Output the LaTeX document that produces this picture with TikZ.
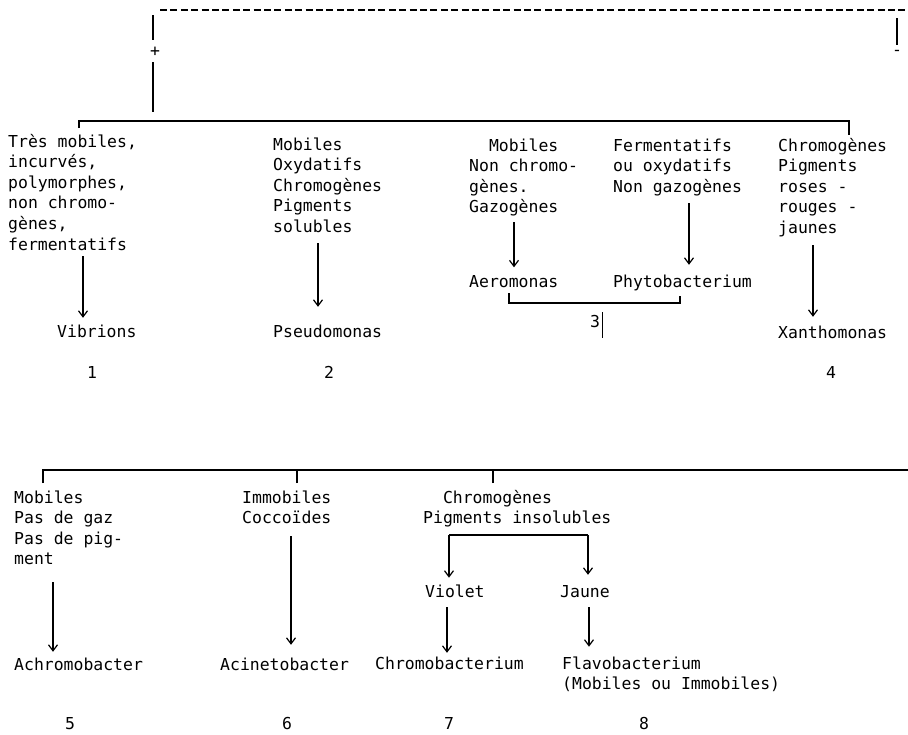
\documentclass[tikz,border=0pt]{standalone}
\usepackage{fontspec}
\usepackage{tikz}
\usetikzlibrary{arrows.meta}
\newfontfamily\typewriter{DejaVu Sans Mono}
\tikzstyle{labeledText}=[anchor = base west, inner sep = 0pt, align = left, font = \typewriter\fontsize{16.45}{20.6}\selectfont]
\tikzstyle{labeledNumber}=[anchor = base, inner sep = 0pt, font = \typewriter\fontsize{16.45}{20.6}\selectfont]
\tikzstyle{branchLine}=[line width = 1.4pt]
\tikzstyle{arrowLine}=[line width = 1.2pt, -{Straight Barb[length = 6pt, width = 9pt]}]

\begin{document}
\begin{tikzpicture}[x = 1pt, y = -1pt]
\useasboundingbox (0,0) rectangle (908,734);
% top: + and - branches
\coordinate (d0) at (160,10);
\coordinate (d1) at (908,10);
\draw[branchLine, dash pattern = on 7pt off 3.4pt] (d0) -- (d1);
\coordinate (t0) at (153,15);
\coordinate (t1) at (153,40);
\coordinate (t2) at (153,62);
\coordinate (t3) at (153,112);
\node[labeledNumber, anchor = center] (vPlus) at (155,52) {+};
\draw[line width = 2pt] (t0) -- (t1);
\draw[line width = 2pt] (t2) -- (t3);
\coordinate (r0) at (897,18);
\coordinate (r1) at (897,45);
\draw[line width = 2.4pt] (r0) -- (r1);
\node[labeledNumber, anchor = center] (vMinus) at (897,53) {-};
\coordinate (h0) at (79,128);
\coordinate (h1) at (849,135);
\draw[branchLine] (h0) -- ++(0,-7) -| (h1);
% first row (multi-line nodes sit on their last line)
\node[labeledText] (v0) at (8,250) {Très mobiles,\\incurvés,\\polymorphes,\\non chromo-\\gènes,\\fermentatifs};
\node[labeledText] (v1) at (273,232.4) {Mobiles\\Oxydatifs\\Chromogènes\\Pigments\\solubles};
\node[labeledText] (v2) at (469,212.8) {\hphantom{No}Mobiles\\Non chromo-\\gènes.\\Gazogènes};
\node[labeledText] (v3) at (613,192.2) {Fermentatifs\\ou oxydatifs\\Non gazogènes};
\node[labeledText] (v4) at (778,233.4) {Chromogènes\\Pigments\\roses -\\rouges -\\jaunes};
\node[labeledText] (v5) at (57,337) {Vibrions};
\node[labeledText] (v6) at (273,337) {Pseudomonas};
\node[labeledText] (v7) at (469,287) {Aeromonas};
\node[labeledText] (v8) at (613,287) {Phytobacterium};
\node[labeledText] (v9) at (778,338) {Xanthomonas};
\coordinate (a0) at (83,256);
\coordinate (a1) at (318,243);
\coordinate (a2) at (514,222);
\coordinate (a3) at (689,203);
\coordinate (a4) at (813,245);
\draw[arrowLine, shorten > = 6.5pt] (a0) -- (a0 |- v5.north);
\draw[arrowLine, shorten > = 17.5pt] (a1) -- (a1 |- v6.north);
\draw[arrowLine, shorten > = 7.5pt] (a2) -- (a2 |- v7.north);
\draw[arrowLine, shorten > = 9.5pt] (a3) -- (a3 |- v8.north);
\draw[arrowLine, shorten > = 8.5pt] (a4) -- (a4 |- v9.north);
\coordinate (b0) at (509,293);
\coordinate (b1) at (680,296);
\draw[branchLine] (b0) -- ++(0,10) -| (b1);
\node[labeledNumber] (n1) at (92,378) {1};
\node[labeledNumber] (n2) at (329,378) {2};
\node[labeledNumber] (n3) at (595,327) {3};
\node[labeledNumber] (n4) at (831,378) {4};
\draw[line width = 0.4pt] (n3.base east) ++(2,-15) -- ++(0,26);
% second row
\coordinate (h2) at (43,483);
\coordinate (h3) at (908,470);
\coordinate (h4) at (297,483);
\coordinate (h5) at (493,483);
\draw[branchLine] (h2) -- ++(0,-13) -- (h3);
\draw[branchLine] (h4) -- ++(0,-13);
\draw[branchLine] (h5) -- ++(0,-13);
\node[labeledText] (v10) at (14,564.8) {Mobiles\\Pas de gaz\\Pas de pig-\\ment};
\node[labeledText] (v11) at (242,523.6) {Immobiles\\Coccoïdes};
\node[labeledText] (v12) at (423,523.6) {\hphantom{Pi}Chromogènes\\Pigments insolubles};
\node[labeledText] (v13) at (425,597) {Violet};
\node[labeledText] (v14) at (560,597) {Jaune};
\node[labeledText] (v15) at (14,670) {Achromobacter};
\node[labeledText] (v16) at (220,670) {Acinetobacter};
\node[labeledText] (v17) at (375,669) {Chromobacterium};
\node[labeledText] (v18) at (562,689.6) {Flavobacterium\\(Mobiles ou Immobiles)};
\coordinate (c0) at (449,535);
\coordinate (c1) at (588,535);
\draw[branchLine] (c0) -- (c1);
\draw[arrowLine, shorten > = 6.5pt] (c0) -- (c0 |- v13.north);
\draw[arrowLine, shorten > = 10pt] (c1) -- (c1 |- v14.north);
\coordinate (a5) at (53,582);
\coordinate (a6) at (291,536);
\coordinate (a7) at (447,607);
\coordinate (a8) at (589,607);
\draw[arrowLine, shorten > = 5.5pt] (a5) -- (a5 |- v15.north);
\draw[arrowLine, shorten > = 12.5pt] (a6) -- (a6 |- v16.north);
\draw[arrowLine, shorten > = 3.5pt] (a7) -- (a7 |- v17.north);
\draw[arrowLine, shorten > = 9.5pt] (a8) -- (a8 |- v18.north);
\node[labeledNumber] (n5) at (70,729) {5};
\node[labeledNumber] (n6) at (287,729) {6};
\node[labeledNumber] (n7) at (449,729) {7};
\node[labeledNumber] (n8) at (644,729) {8};
\end{tikzpicture}
\end{document}
